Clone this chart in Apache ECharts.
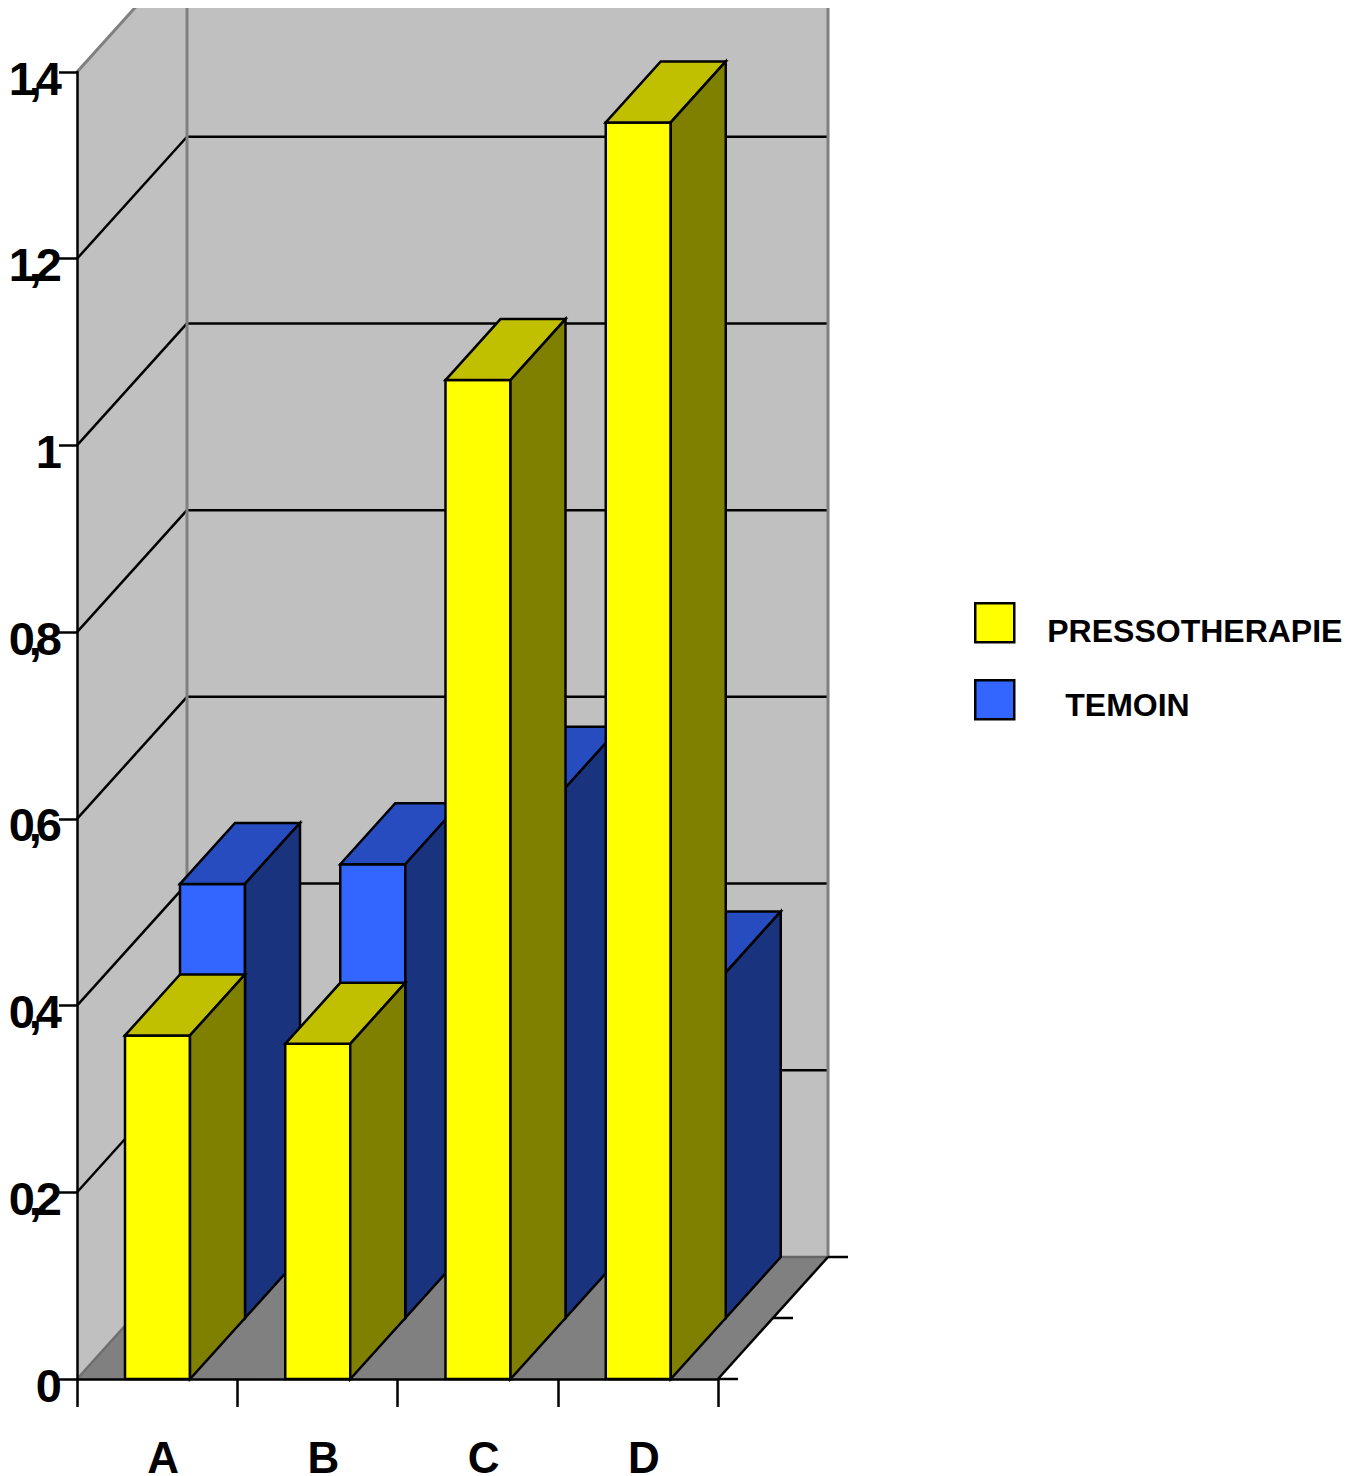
<!DOCTYPE html>
<html>
<head>
<meta charset="utf-8">
<title>Pressothérapie / témoin</title>
<script src="https://cdn.jsdelivr.net/npm/echarts@6/dist/echarts.min.js"></script>
<style>
  html, body { margin: 0; padding: 0; background: #fff; }
  #chart { width: 1359px; height: 1476px; }
  /* Value-axis labels are set tight, so their glyphs touch */
  text[style*="47px"] { letter-spacing: -6px; }
</style>
</head>
<body>
<div id="chart"></div>
<script>
const categories = ['A', 'B', 'C', 'D'];
const pressotherapie = [0.368, 0.359, 1.07, 1.346];
const temoin = [0.465, 0.486, 0.568, 0.37];
const yTicks = [0, 0.2, 0.4, 0.6, 0.8, 1, 1.2, 1.4];

// Oblique projection: one depth row shifts a mark right and up by these pixels
const ROW_DX = 55;
const ROW_DY = -61;
const BAR_WIDTH = 65;
const BAR_INSET = 48;
const CLIP_TOP = 8;

const BLACK = '#000000';
const EDGE_GREY = '#808080';
const STROKE = 2.5;

function poly(points, fill, stroke, z2) {
  return {
    type: 'polygon',
    shape: { points },
    z2,
    style: { fill, stroke: stroke || null, lineWidth: stroke ? STROKE : 0 }
  };
}

function line(a, b, stroke, z2, width) {
  return {
    type: 'line',
    shape: { x1: a[0], y1: a[1], x2: b[0], y2: b[1] },
    z2,
    style: { stroke, lineWidth: width || STROKE, fill: null }
  };
}

// Side wall, back wall, floor and their grid lines
function renderRoom(params, api) {
  const band = api.size([1, 0])[0];
  const y0 = api.coord([0, 0])[1];
  const x0 = api.coord([0, 0])[0] - band / 2;
  const x1 = x0 + band * categories.length;
  const yTop = api.coord([0, yTicks[yTicks.length - 1]])[1];
  const dx = ROW_DX * 2;
  const dy = ROW_DY * 2;
  const children = [
    poly([[x0, yTop], [x0 + dx, yTop + dy], [x0 + dx, y0 + dy], [x0, y0]], '#C0C0C0', null, 1),
    poly([[x0 + dx, yTop + dy], [x1 + dx, yTop + dy], [x1 + dx, y0 + dy], [x0 + dx, y0 + dy]], '#C0C0C0', null, 1),
    poly([[x0, y0], [x1, y0], [x1 + dx, y0 + dy], [x0 + dx, y0 + dy]], '#808080', null, 1),
    line([x0 + dx, yTop + dy], [x0 + dx, y0 + dy], EDGE_GREY, 3, 3),
    line([x1 + dx, yTop + dy], [x1 + dx, y0 + dy], EDGE_GREY, 3, 3),
    line([x0, y0], [x0 + dx, y0 + dy], '#6e6e6e', 3),
    line([x0 + dx, y0 + dy], [x1 + dx, y0 + dy], '#666666', 3),
    line([x0, yTop], [x0 + dx, yTop + dy], EDGE_GREY, 3, 3),
    line([x1, y0], [x1 + dx, y0 + dy], BLACK, 4)
  ];
  yTicks.slice(1, -1).forEach(function (t) {
    const y = api.coord([0, t])[1];
    children.push(line([x0, y], [x0 + dx, y + dy], BLACK, 2));
    children.push(line([x0 + dx, y + dy], [x1 + dx, y + dy], BLACK, 2));
  });
  // Depth-axis ticks along the right edge of the floor
  [0, 1, 2].forEach(function (row) {
    const px = x1 + ROW_DX * row;
    const py = y0 + ROW_DY * row;
    children.push(line([px, py], [px + 20, py], BLACK, 4));
  });
  return {
    type: 'group',
    clipPath: { type: 'rect', shape: { x: 0, y: CLIP_TOP, width: 1359, height: 1476 } },
    children
  };
}

// One cuboid: front, top and side faces, pushed back by `row` depth rows
function barRenderer(row, front, top, side) {
  return function (params, api) {
    const band = api.size([1, 0])[0];
    const c = api.coord([api.value(0), api.value(1)]);
    const base = api.coord([api.value(0), 0]);
    const l = c[0] - band / 2 + BAR_INSET + ROW_DX * row;
    const r = l + BAR_WIDTH;
    const t = c[1] + ROW_DY * row;
    const b = base[1] + ROW_DY * row;
    return {
      type: 'group',
      children: [
        poly([[l, t], [r, t], [r, b], [l, b]], front, BLACK, 1),
        poly([[l, t], [l + ROW_DX, t + ROW_DY], [r + ROW_DX, t + ROW_DY], [r, t]], top, BLACK, 2),
        poly([[r, t], [r + ROW_DX, t + ROW_DY], [r + ROW_DX, b + ROW_DY], [r, b]], side, BLACK, 2)
      ]
    };
  };
}

const chart = echarts.init(document.getElementById('chart'), null, {
  renderer: 'svg',
  width: 1359,
  height: 1476
});

const legendFont = { color: BLACK, fontFamily: 'Liberation Sans', fontWeight: 'bold', fontSize: 32 };
const legendIcon = { borderColor: BLACK, borderWidth: STROKE };

chart.setOption({
  backgroundColor: '#FFFFFF',
  animation: false,
  grid: { left: 77, top: 72, width: 641, height: 1307, outerBoundsMode: 'none', containLabel: false },
  xAxis: {
    type: 'category',
    data: categories,
    z: 3,
    axisLine: { onZero: false, lineStyle: { color: BLACK, width: STROKE } },
    axisTick: { show: true, length: 28, alignWithLabel: false, lineStyle: { color: BLACK, width: STROKE } },
    axisLabel: {
      color: BLACK,
      fontFamily: 'Liberation Sans',
      fontWeight: 'bold',
      fontSize: 44,
      lineHeight: 36,
      margin: 60,
      padding: [0, 0, 0, 12]
    }
  },
  yAxis: {
    type: 'value',
    min: 0,
    max: 1.4,
    interval: 0.2,
    z: 3,
    splitLine: { show: false },
    axisLine: { show: true, lineStyle: { color: BLACK, width: STROKE } },
    axisTick: { show: true, length: 18, lineStyle: { color: BLACK, width: STROKE } },
    axisLabel: {
      margin: 21,
      formatter: function (v) { return '{v|' + String(v).replace('.', ',') + '}'; },
      rich: {
        v: {
          color: BLACK,
          fontFamily: 'Liberation Sans',
          fontWeight: 'bold',
          fontSize: 47,
          padding: [12, 0, 0, 0]
        }
      }
    }
  },
  legend: [
    {
      data: ['PRESSOTHERAPIE'],
      left: 974,
      top: 602,
      padding: 0,
      orient: 'vertical',
      selectedMode: false,
      icon: 'rect',
      itemWidth: 39,
      itemHeight: 39,
      itemStyle: legendIcon,
      formatter: '{t|{name}}',
      textStyle: { rich: { t: Object.assign({ padding: [16, 0, 0, 28] }, legendFont) } }
    },
    {
      data: ['TEMOIN'],
      left: 974,
      top: 679,
      padding: 0,
      orient: 'vertical',
      selectedMode: false,
      icon: 'rect',
      itemWidth: 39,
      itemHeight: 39,
      itemStyle: legendIcon,
      formatter: '{t|{name}}',
      textStyle: { rich: { t: Object.assign({ padding: [11, 0, 0, 46] }, legendFont) } }
    }
  ],
  series: [
    {
      name: 'room',
      type: 'custom',
      z: 1,
      silent: true,
      renderItem: renderRoom,
      data: [[0, 0]]
    },
    {
      name: 'TEMOIN',
      type: 'custom',
      z: 4,
      silent: true,
      itemStyle: { color: '#3366FF' },
      renderItem: barRenderer(1, '#3366FF', '#264CBF', '#19337F'),
      data: temoin.map(function (v, i) { return [i, v]; })
    },
    {
      name: 'PRESSOTHERAPIE',
      type: 'custom',
      z: 5,
      silent: true,
      itemStyle: { color: '#FFFF00' },
      renderItem: barRenderer(0, '#FFFF00', '#C0C000', '#808000'),
      data: pressotherapie.map(function (v, i) { return [i, v]; })
    }
  ]
});
</script>
</body>
</html>
